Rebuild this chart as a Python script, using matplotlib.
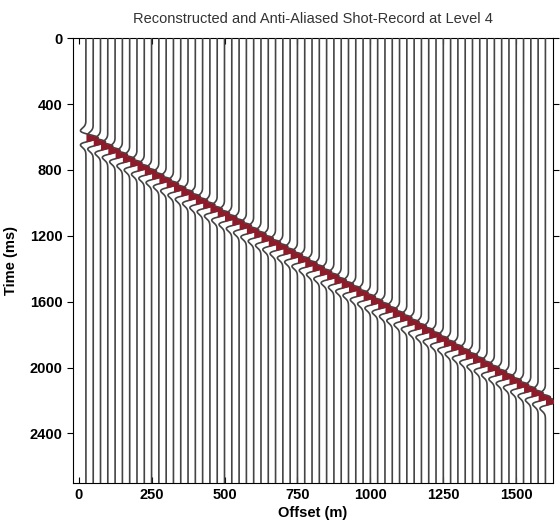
import numpy as np
import matplotlib
matplotlib.use("Agg")
from matplotlib import pyplot as plt

plt.rcParams['font.family'] = ['Liberation Sans', 'DejaVu Sans']

title = 'Reconstructed and Anti-Aliased Shot-Record at Level 4'
xlabel = 'Offset (m)'
ylabel = 'Time (ms)'

# receiver offsets (m), one trace each
offsets = list(range(25, 1601, 25))
# picked arrival time of the linear event on each trace (ms)
arrival_ms = [605, 630, 656, 681, 707, 732, 757, 783, 808, 834, 859, 884, 910, 935,
              961, 986, 1011, 1037, 1062, 1088, 1113, 1138, 1164, 1189, 1215, 1240,
              1265, 1291, 1316, 1342, 1367, 1392, 1418, 1443, 1469, 1494, 1519, 1545,
              1570, 1596, 1621, 1646, 1672, 1697, 1723, 1748, 1773, 1799, 1824, 1850,
              1875, 1900, 1926, 1951, 1977, 2002, 2027, 2053, 2078, 2104, 2129, 2154,
              2180, 2205]
xticks = [0, 250, 500, 750, 1000, 1250, 1500]
yticks = [0, 400, 800, 1200, 1600, 2000, 2400]

peak_hz = 9.0       # wavelet dominant frequency
gain = 42.0         # trace deflection (m) for unit amplitude


def ricker(t_ms, f):
    a = (np.pi * f * t_ms / 1000.0) ** 2
    return (1 - 2 * a) * np.exp(-a)


fig = plt.figure(figsize=(5.6, 5.3), dpi=100)
ax = fig.add_axes([0.130, 0.089, 0.857, 0.839])

t = np.arange(0, 2701, 1.0)
for off, t0 in zip(offsets, arrival_ms):
    w = ricker(t - t0, peak_hz) * gain
    x = off + w
    ax.fill_betweenx(t, off, x, where=w < 0, color='white', lw=0, zorder=2)
    ax.fill_betweenx(t, off, x, where=w > 2, color='#8e1b2a', lw=0, zorder=5)
    ax.plot(x, t, color='#444444', lw=1.2, zorder=4)

ax.set_xlim(-20, 1625)
ax.set_ylim(2700, 0)
ax.set_xticks(xticks)
ax.set_yticks(yticks)
ax.tick_params(axis='x', direction='in', top=True, length=4, labelsize=10.5)
ax.tick_params(axis='y', direction='out', right=True, length=4, labelsize=10.5)
for lab in ax.get_xticklabels() + ax.get_yticklabels():
    lab.set_fontweight('bold')
ax.set_xlabel(xlabel, fontsize=10.5, fontweight='bold', labelpad=3)
ax.set_ylabel(ylabel, fontsize=10.5, fontweight='bold', labelpad=8)
ax.set_title(title, fontsize=10.5, pad=11, color='#333333')

fig.savefig('out.png', dpi=100)
